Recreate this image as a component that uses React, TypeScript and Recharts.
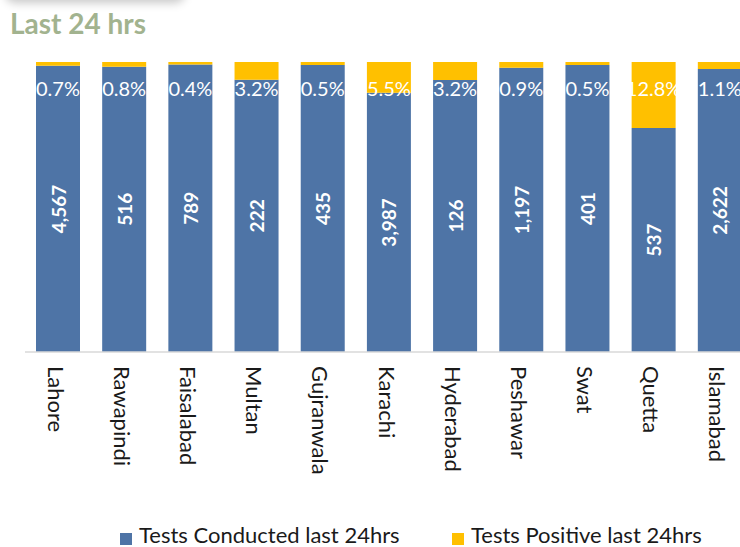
import React from 'react';
import { BarChart, Bar, XAxis, YAxis, LabelList, Legend } from 'recharts';

const cities = ['Lahore', 'Rawapindi', 'Faisalabad', 'Multan', 'Gujranwala', 'Karachi', 'Hyderabad', 'Peshawar', 'Swat', 'Quetta', 'Islamabad'];
const testsConducted = [4567, 516, 789, 222, 435, 3987, 126, 1197, 401, 537, 2622];
const positivePct = [0.7, 0.8, 0.4, 3.2, 0.5, 5.5, 3.2, 0.9, 0.5, 12.8, 1.1];
// stacked shares (% of bar height) as drawn in the picture
const conductedShare = [98.7, 98.4, 99.1, 93.9, 99.0, 89.4, 93.8, 98.0, 99.0, 77.2, 97.6];
const positiveShare = [1.3, 1.6, 0.9, 6.1, 1.0, 10.6, 6.2, 2.0, 1.0, 22.8, 2.4];

const BLUE = '#4e74a6';
const YELLOW = '#ffc000';
const FONT = 'Lato, "Open Sans", sans-serif';

const data = cities.map((city, i) => ({
  city,
  tests: testsConducted[i],
  pct: positivePct[i],
  conducted: conductedShare[i],
  positive: positiveShare[i],
}));

const CityTick = (props: any) => {
  const { x, y, payload } = props;
  return (
    <text
      transform={`translate(${x - 2},${y + 6}) rotate(90)`}
      textAnchor="start"
      dominantBaseline="central"
      fontFamily={FONT}
      fontSize={22}
      fill="#1a1a1a"
    >
      {payload.value}
    </text>
  );
};

const TestsLabel = (props: any) => {
  const { x, y, width, height, value } = props;
  const cx = x + width / 2;
  const cy = y + height / 2;
  return (
    <text
      transform={`translate(${cx},${cy}) rotate(-90)`}
      textAnchor="middle"
      dominantBaseline="central"
      fontFamily={FONT}
      fontWeight={700}
      fontSize={19}
      fill="#ffffff"
    >
      {Number(value).toLocaleString('en-US')}
    </text>
  );
};

const PctLabel = (props: any) => {
  const { x, y, width, value } = props;
  return (
    <text
      x={x + width / 2}
      y={y + 26}
      textAnchor="middle"
      dominantBaseline="central"
      fontFamily={FONT}
      fontSize={20}
      fill="#ffffff"
    >
      {`${value}%`}
    </text>
  );
};

const LegendContent = () => (
  <div style={{ position: 'relative', height: 30, width: 740, fontFamily: FONT, fontSize: 22, lineHeight: '22px', color: '#1a1a1a' }}>
    <span style={{ position: 'absolute', left: 120, top: 16, width: 12, height: 12, background: BLUE }} />
    <span style={{ position: 'absolute', left: 139, top: 7, whiteSpace: 'nowrap' }}>Tests Conducted last 24hrs</span>
    <span style={{ position: 'absolute', left: 452, top: 16, width: 12, height: 12, background: YELLOW }} />
    <span style={{ position: 'absolute', left: 471, top: 7, whiteSpace: 'nowrap' }}>Tests Positive last 24hrs</span>
  </div>
);

export default function App() {
  return (
    <div style={{ position: 'absolute', left: 0, top: 0, width: 740, height: 547, overflow: 'hidden', background: '#fff' }}>
      <div
        style={{
          position: 'absolute',
          left: 5,
          top: -30,
          width: 180,
          height: 30,
          borderRadius: 10,
          boxShadow: '0 3px 10px rgba(0,0,0,0.22)',
          background: '#fff',
        }}
      />
      <div
        style={{
          position: 'absolute',
          left: 10,
          top: 9,
          fontFamily: FONT,
          fontWeight: 700,
          fontSize: 28,
          lineHeight: '28px',
          color: '#a2b38f',
          zIndex: 2,
          whiteSpace: 'nowrap',
        }}
      >
        Last 24 hrs
      </div>
      <div style={{ position: 'absolute', left: 0, top: 0 }}>
        <BarChart width={760} height={547} data={data} margin={{ top: 62, right: 7, bottom: 0, left: 25 }}>
          <XAxis
            dataKey="city"
            interval={0}
            tickLine={false}
            axisLine={{ stroke: '#d9d9d9', strokeWidth: 1.5 }}
            tick={<CityTick />}
            height={165}
          />
          <YAxis hide domain={[0, 100]} />
          <Legend verticalAlign="bottom" wrapperStyle={{ left: 0, width: 740 }} content={<LegendContent />} />
          <Bar dataKey="conducted" name="Tests Conducted last 24hrs" stackId="a" fill={BLUE} barSize={44} isAnimationActive={false}>
            <LabelList dataKey="tests" content={<TestsLabel />} />
          </Bar>
          <Bar dataKey="positive" name="Tests Positive last 24hrs" stackId="a" fill={YELLOW} barSize={44} isAnimationActive={false}>
            <LabelList dataKey="pct" content={<PctLabel />} />
          </Bar>
        </BarChart>
      </div>
    </div>
  );
}
